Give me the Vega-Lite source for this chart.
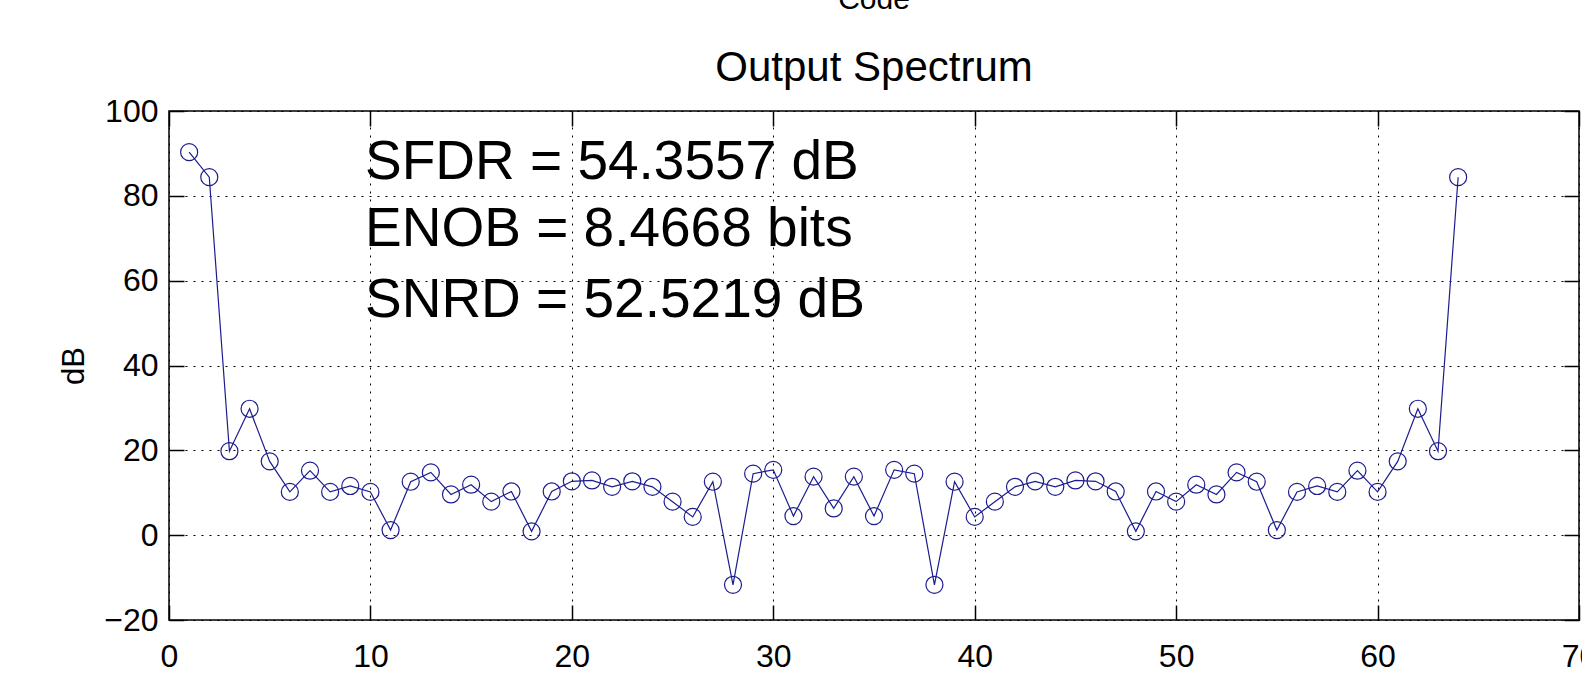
{
  "$schema": "https://vega.github.io/schema/vega-lite/v6.json",
  "width": 1410,
  "height": 509,
  "autosize": {"type": "none"},
  "padding": {"left": 169, "top": 111, "right": 3, "bottom": 70},
  "background": "white",
  "title": {
    "text": "Code",
    "subtitle": "Output Spectrum",
    "anchor": "middle",
    "frame": "group",
    "font": "Liberation Sans",
    "fontSize": 30,
    "fontWeight": "normal",
    "color": "#000",
    "subtitleFont": "Liberation Sans",
    "subtitleFontSize": 42,
    "subtitleColor": "#000",
    "subtitlePadding": 33,
    "offset": 6
  },
  "config": {
    "view": {"stroke": "#000", "strokeWidth": 1.5},
    "axis": {
      "labelFont": "Liberation Sans",
      "labelFontSize": 32,
      "labelColor": "#000",
      "titleFont": "Liberation Sans",
      "titleFontSize": 31,
      "titleFontWeight": "normal",
      "titleColor": "#000",
      "domain": false,
      "tickColor": "#000",
      "tickWidth": 1.5,
      "tickSize": -15,
      "gridColor": "#000",
      "gridDash": [2, 6],
      "gridWidth": 1,
      "gridOpacity": 1
    }
  },
  "datasets": {
    "spectrum": [
      {"bin": 1, "dB": 90.3}, {"bin": 2, "dB": 84.4}, {"bin": 3, "dB": 19.8}, {"bin": 4, "dB": 29.8},
      {"bin": 5, "dB": 17.4}, {"bin": 6, "dB": 10.2}, {"bin": 7, "dB": 15.2}, {"bin": 8, "dB": 10.2},
      {"bin": 9, "dB": 11.6}, {"bin": 10, "dB": 10.2}, {"bin": 11, "dB": 1.2}, {"bin": 12, "dB": 12.6},
      {"bin": 13, "dB": 14.8}, {"bin": 14, "dB": 9.6}, {"bin": 15, "dB": 11.9}, {"bin": 16, "dB": 7.9},
      {"bin": 17, "dB": 10.3}, {"bin": 18, "dB": 0.9}, {"bin": 19, "dB": 10.3}, {"bin": 20, "dB": 12.7},
      {"bin": 21, "dB": 12.9}, {"bin": 22, "dB": 11.4}, {"bin": 23, "dB": 12.7}, {"bin": 24, "dB": 11.4},
      {"bin": 25, "dB": 7.9}, {"bin": 26, "dB": 4.3}, {"bin": 27, "dB": 12.6}, {"bin": 28, "dB": -11.7},
      {"bin": 29, "dB": 14.5}, {"bin": 30, "dB": 15.4}, {"bin": 31, "dB": 4.5}, {"bin": 32, "dB": 13.8},
      {"bin": 33, "dB": 6.3}, {"bin": 34, "dB": 13.8}, {"bin": 35, "dB": 4.5}, {"bin": 36, "dB": 15.4},
      {"bin": 37, "dB": 14.5}, {"bin": 38, "dB": -11.7}, {"bin": 39, "dB": 12.6}, {"bin": 40, "dB": 4.3},
      {"bin": 41, "dB": 7.9}, {"bin": 42, "dB": 11.4}, {"bin": 43, "dB": 12.7}, {"bin": 44, "dB": 11.4},
      {"bin": 45, "dB": 12.9}, {"bin": 46, "dB": 12.7}, {"bin": 47, "dB": 10.3}, {"bin": 48, "dB": 0.9},
      {"bin": 49, "dB": 10.3}, {"bin": 50, "dB": 7.9}, {"bin": 51, "dB": 11.9}, {"bin": 52, "dB": 9.6},
      {"bin": 53, "dB": 14.8}, {"bin": 54, "dB": 12.6}, {"bin": 55, "dB": 1.2}, {"bin": 56, "dB": 10.2},
      {"bin": 57, "dB": 11.6}, {"bin": 58, "dB": 10.2}, {"bin": 59, "dB": 15.2}, {"bin": 60, "dB": 10.2},
      {"bin": 61, "dB": 17.4}, {"bin": 62, "dB": 29.8}, {"bin": 63, "dB": 19.8}, {"bin": 64, "dB": 84.4}
    ],
    "notes": [
      {"bin": 9.73, "dB": 83.97, "label": "SFDR = 54.3557 dB"},
      {"bin": 9.73, "dB": 68.2, "label": "ENOB = 8.4668 bits"},
      {"bin": 9.73, "dB": 51.4, "label": "SNRD = 52.5219 dB"}
    ]
  },
  "layer": [
    {
      "data": {"name": "spectrum"},
      "mark": {"type": "line", "color": "#1c1c8f", "strokeWidth": 1.2},
      "encoding": {
        "x": {
          "field": "bin", "type": "quantitative",
          "scale": {"domain": [0, 70], "nice": false, "zero": false},
          "axis": {"orient": "bottom", "values": [0, 10, 20, 30, 40, 50, 60, 70], "grid": true, "title": "Bin Num", "labelPadding": 36, "titlePadding": 18, "labelFlush": false}
        },
        "y": {
          "field": "dB", "type": "quantitative",
          "scale": {"domain": [-20, 100], "nice": false, "zero": false},
          "axis": {"orient": "left", "values": [-20, 0, 20, 40, 60, 80, 100], "grid": true, "title": "dB", "labelPadding": 26, "titlePadding": 13, "labelFlush": false}
        }
      }
    },
    {
      "data": {"name": "spectrum"},
      "mark": {"type": "point", "shape": "circle", "filled": false, "color": "#1c1c8f", "size": 290, "strokeWidth": 1.2, "opacity": 1},
      "encoding": {
        "x": {"field": "bin", "type": "quantitative",
          "axis": {"orient": "top", "values": [0, 10, 20, 30, 40, 50, 60, 70], "grid": false, "labels": false, "title": null}},
        "y": {"field": "dB", "type": "quantitative",
          "axis": {"orient": "right", "values": [-20, 0, 20, 40, 60, 80, 100], "grid": false, "labels": false, "title": null}}
      }
    },
    {
      "data": {"name": "notes"},
      "mark": {"type": "text", "align": "left", "baseline": "alphabetic", "font": "Liberation Sans", "fontSize": 55, "color": "#000"},
      "encoding": {
        "x": {"field": "bin", "type": "quantitative", "axis": null},
        "y": {"field": "dB", "type": "quantitative", "axis": null},
        "text": {"field": "label"}
      }
    }
  ]
}
